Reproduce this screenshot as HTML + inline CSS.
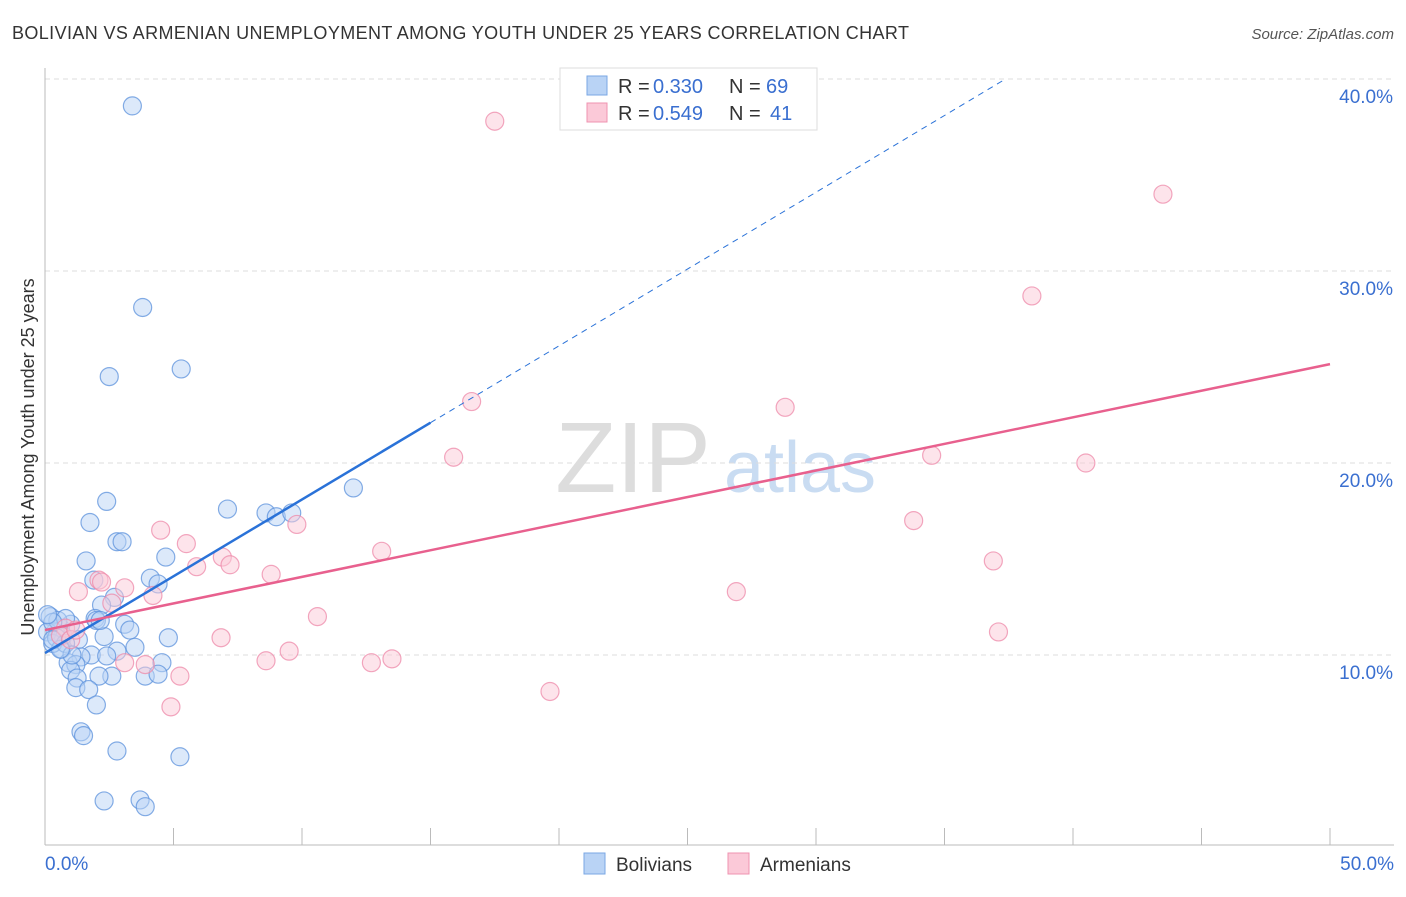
<!DOCTYPE html>
<html><head><meta charset="utf-8"><style>
body{margin:0;background:#fff;font-family:"Liberation Sans",sans-serif}
svg text{font-family:"Liberation Sans",sans-serif}
</style></head><body>
<svg id="chart" width="1406" height="892">
<text x="12" y="39" font-size="18" fill="#333" textLength="897">BOLIVIAN VS ARMENIAN UNEMPLOYMENT AMONG YOUTH UNDER 25 YEARS CORRELATION CHART</text>
<text x="1394" y="39" font-size="15" fill="#555" text-anchor="end" font-style="italic">Source: ZipAtlas.com</text>
<text x="0" y="0" transform="translate(34,457) rotate(-90)" font-size="18" fill="#333" text-anchor="middle">Unemployment Among Youth under 25 years</text>
<g><text x="633" y="492" font-size="100" fill="#ddd" text-anchor="middle" font-family="Liberation Serif">ZIP</text><text x="800" y="492" font-size="72" fill="#c9dcf2" text-anchor="middle">atlas</text></g>
<g id="grid"></g><g id="marks"></g>
<g>
<rect x="560" y="68" width="257" height="62" fill="#fff" stroke="#ddd"/>
<rect x="587" y="76" width="20" height="19" fill="#b9d3f5" stroke="#7aa7e4"/>
<rect x="587" y="103" width="20" height="19" fill="#fbc9d8" stroke="#ef93b0"/>
<text x="618" y="93" font-size="20" fill="#333">R =</text><text x="653" y="93" font-size="20" fill="#3a6fd0">0.330</text>
<text x="729" y="93" font-size="20" fill="#333">N =</text><text x="766" y="93" font-size="20" fill="#3a6fd0">69</text>
<text x="618" y="120" font-size="20" fill="#333">R =</text><text x="653" y="120" font-size="20" fill="#3a6fd0">0.549</text>
<text x="729" y="120" font-size="20" fill="#333">N =</text><text x="770" y="120" font-size="20" fill="#3a6fd0">41</text>
</g>
<g>
<rect x="584" y="853" width="21" height="21" fill="#b9d3f5" stroke="#7aa7e4"/><text x="616" y="871" font-size="19" fill="#333">Bolivians</text>
<rect x="728" y="853" width="21" height="21" fill="#fbc9d8" stroke="#ef93b0"/><text x="760" y="871" font-size="19" fill="#333">Armenians</text>
</g>
</svg>
<script>
const yTicks=[10,20,30,40];
const yTickLabels=["10.0%","20.0%","30.0%","40.0%"];
const xTickLabels=["0.0%","50.0%"];
const bolX=[3.4,3.8,5.3,2.5,2.4,1.75,7.1,8.6,9.0,9.6,12.0,2.8,3.0,1.6,4.7,4.1,1.9,4.4,2.7,2.2,1.95,2.0,3.1,3.3,1.0,0.6,0.2,0.4,0.7,1.3,4.8,2.3,3.5,2.8,1.8,1.4,2.4,0.65,0.9,1.2,1.0,4.55,3.9,4.4,2.6,2.1,1.25,1.2,1.7,2.0,1.4,1.5,2.8,5.25,2.3,3.7,3.9,0.1,0.3,0.45,0.8,0.5,1.05,0.8,0.3,0.1,2.15,0.6,0.3];
const bolY=[38.6,28.1,24.9,24.5,18.0,16.9,17.6,17.4,17.2,17.4,18.7,15.9,15.9,14.9,15.1,14.0,13.9,13.7,13.0,12.6,11.9,11.8,11.6,11.3,11.6,11.4,12.0,11.2,11.0,10.8,10.9,10.96,10.4,10.2,10.0,9.9,9.95,10.3,9.6,9.5,9.2,9.6,8.9,9.0,8.9,8.9,8.8,8.3,8.2,7.4,6.0,5.8,5.0,4.7,2.4,2.45,2.1,11.2,10.6,10.9,10.6,11.8,10.0,11.9,11.7,12.1,11.8,10.3,10.8];
const armX=[17.5,43.5,38.4,16.6,28.8,15.9,34.5,40.5,33.8,4.5,9.8,5.5,13.1,6.9,5.9,7.2,8.8,2.1,1.3,3.1,4.2,2.6,10.6,6.85,26.9,36.9,37.1,9.5,8.6,12.7,13.5,3.1,3.9,5.25,4.9,19.65,0.8,0.6,1.0,1.2,2.2];
const armY=[37.8,34.0,28.7,23.2,22.9,20.3,20.4,20.0,17.0,16.5,16.8,15.8,15.4,15.1,14.6,14.7,14.2,13.9,13.3,13.5,13.1,12.7,12.0,10.9,13.3,14.9,11.2,10.2,9.7,9.6,9.8,9.6,9.5,8.9,7.3,8.1,11.4,11.0,10.8,11.3,13.8];
const bolFit=[10.1,0.80], armFit=[11.3,0.277];
const X=v=>45+v*25.7, Y=v=>847-v*19.2;
const NS="http://www.w3.org/2000/svg";
function mk(p,t,a){const e=document.createElementNS(NS,t);for(const k in a)e.setAttribute(k,a[k]);p.appendChild(e);return e;}
const g=document.getElementById('grid'), m=document.getElementById('marks');
yTicks.forEach((t,i)=>{
 const l=mk(g,'line',{x1:45,x2:1394,y1:Y(t),y2:Y(t),stroke:'#ddd','stroke-dasharray':'5,4'});
 
 
 const tx=mk(g,'text',{x:1393,y:Y(t)+24,'font-size':19,fill:'#3a6fd0','text-anchor':'end'});tx.textContent=yTickLabels[i];
 
 
});
mk(g,'line',{x1:45,x2:45,y1:68,y2:845,stroke:'#bbb'});
mk(g,'line',{x1:45,x2:1394,y1:845,y2:845,stroke:'#bbb'});
for(let i=0;i<=10;i++){mk(g,'line',{x1:X(i*5),x2:X(i*5),y1:828,y2:845,stroke:'#bbb'});}
[[0,'start',45],[50,'end',1394]].forEach((d,i)=>{const t=mk(g,'text',{x:d[2],y:870,'font-size':19,fill:'#3a6fd0','text-anchor':d[1]});t.textContent=xTickLabels[i];
 
 });
function dots(xs,ys,f,s,n){xs.forEach((x,i)=>{const c=mk(m,'circle',{cx:X(x),cy:Y(ys[i]),r:9,fill:f,'fill-opacity':0.5,stroke:s,'stroke-opacity':0.75,'stroke-width':1.2});
 
 });}
dots(bolX,bolY,'#b9d3f5','#5c92dc','bolivian-point');
dots(armX,armY,'#fbc9d8','#ee8aaa','armenian-point');
let l=mk(m,'line',{x1:X(0),y1:Y(bolFit[0]),x2:X(15),y2:Y(bolFit[0]+15*bolFit[1]),stroke:'#2a72d8','stroke-width':2.5});


const xe=(40-bolFit[0])/bolFit[1];
l=mk(m,'line',{x1:X(15),y1:Y(bolFit[0]+15*bolFit[1]),x2:X(xe),y2:Y(40),stroke:'#2a72d8','stroke-width':1,'stroke-dasharray':'6,5'});


l=mk(m,'line',{x1:X(0),y1:Y(armFit[0]),x2:X(50),y2:Y(armFit[0]+50*armFit[1]),stroke:'#e8608e','stroke-width':2.5});


</script>
</body></html>
